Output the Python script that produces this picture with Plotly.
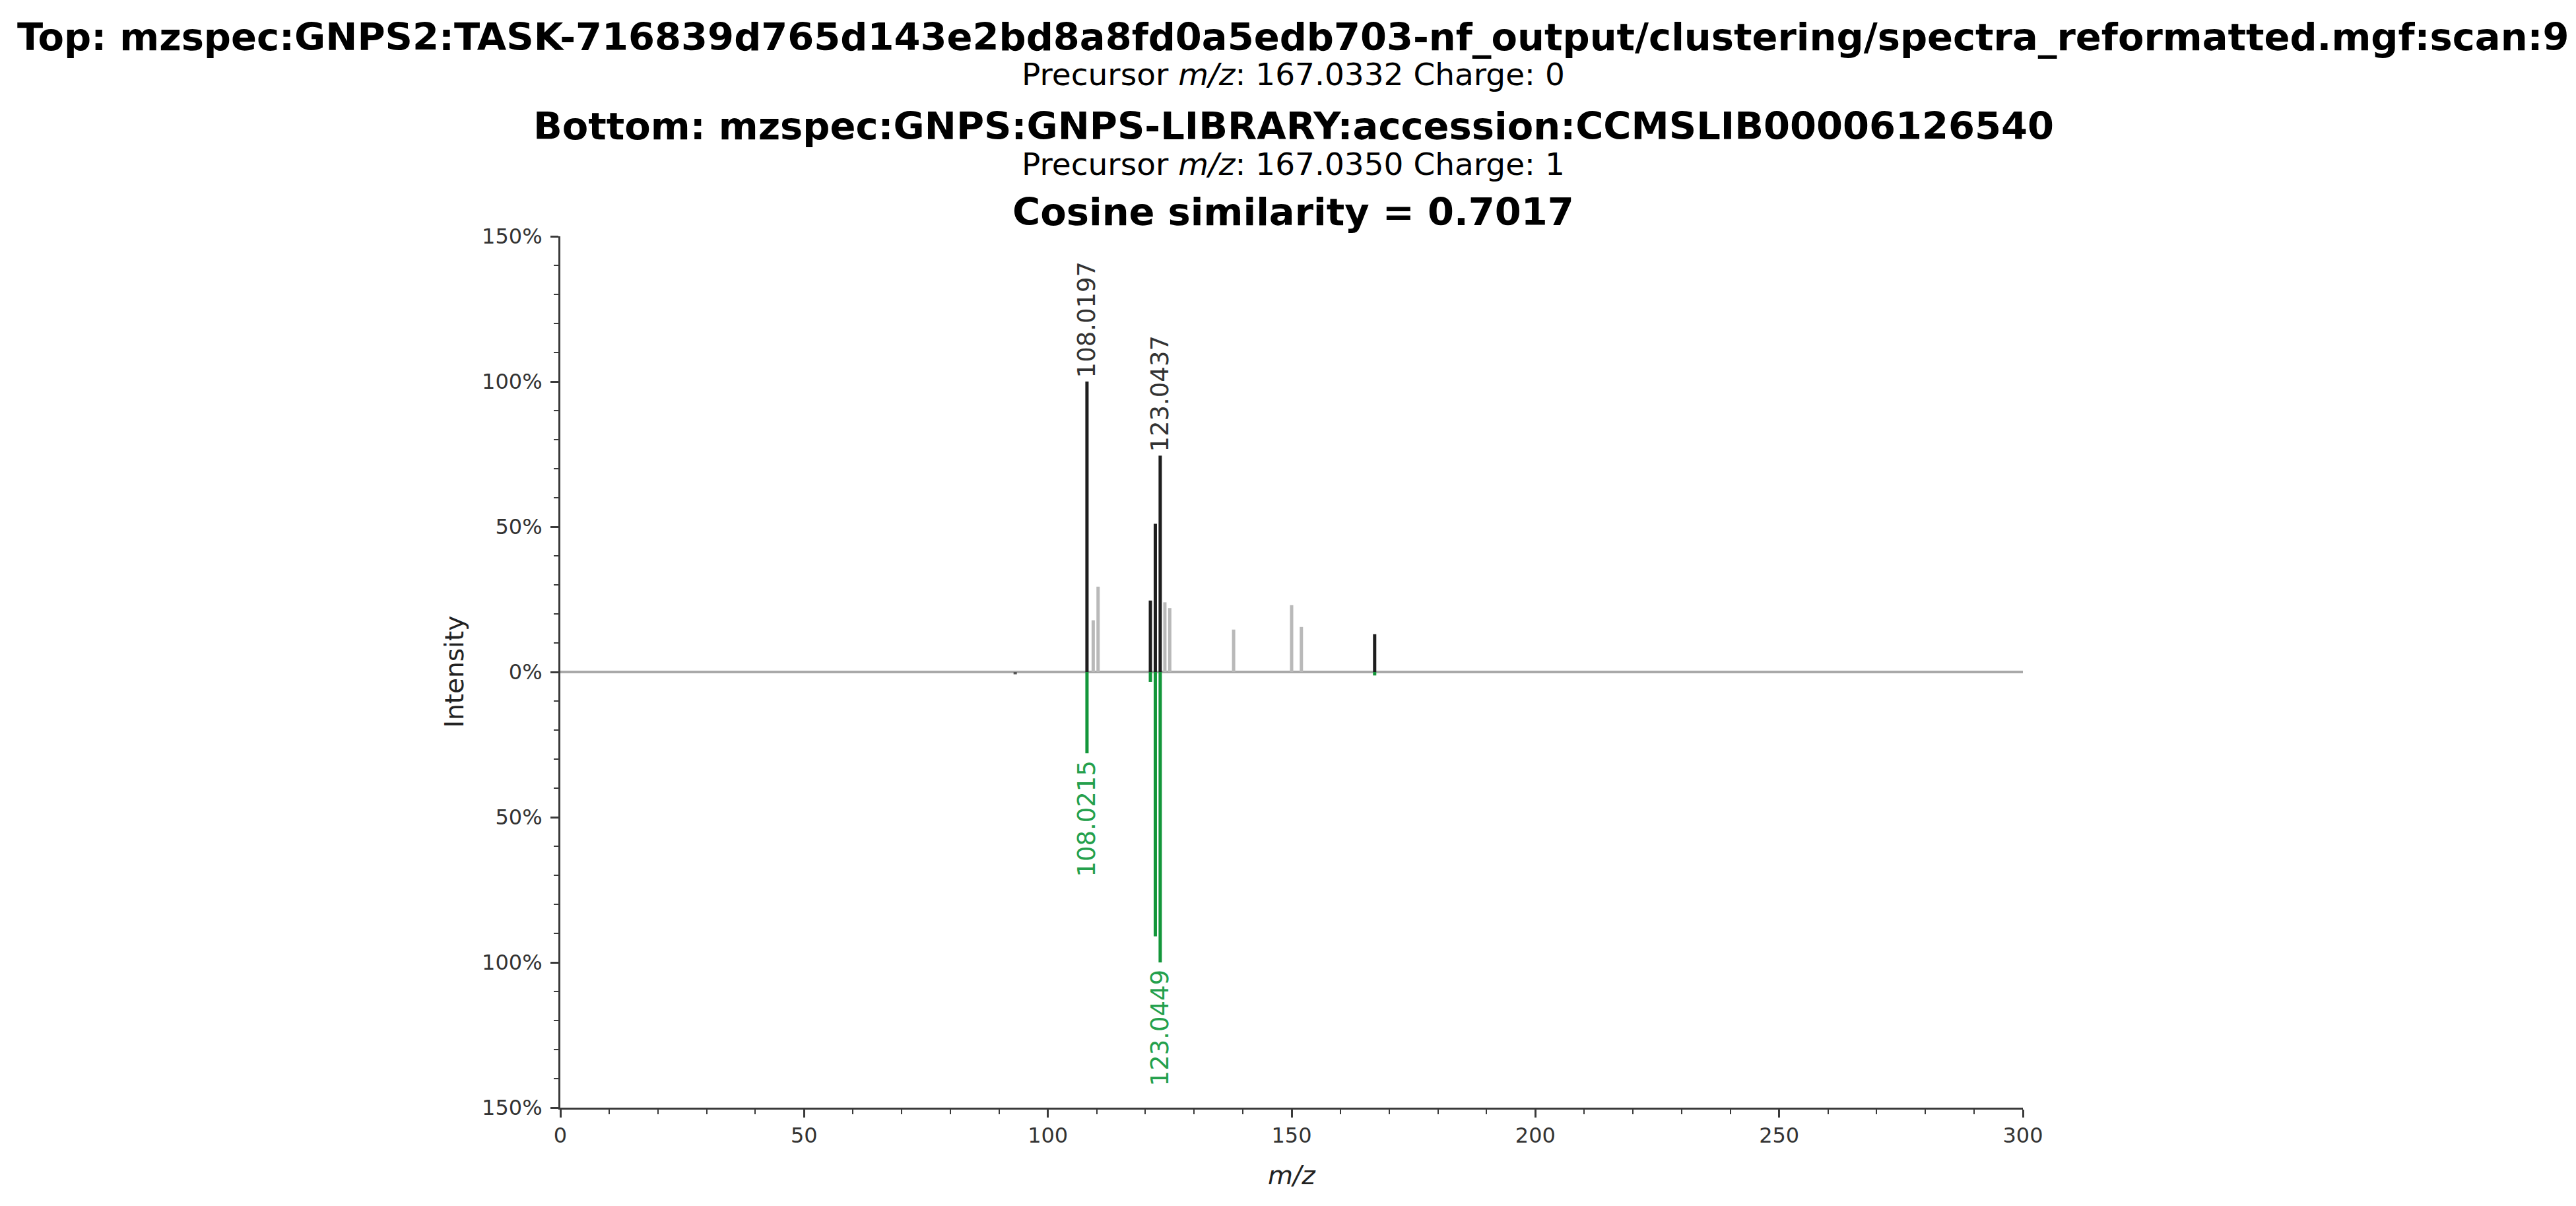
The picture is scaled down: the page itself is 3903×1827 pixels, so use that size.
"""Mirror plot of two MS/MS spectra (top: query, bottom: library match)."""
import plotly.graph_objects as go

FONT = "DejaVu Sans"
MATCH_TOP = "#1e1e1e"
UNMATCHED = "#b9b9b9"
MATCH_BOTTOM = "#13963a"
LABEL_BOTTOM = "#24a04c"
AXIS = "#3a3a3a"

# top spectrum, intensities in % of base peak
top_matched_mz = [108.0197, 121.03, 122.04, 123.0437, 167.03]
top_matched_int = [100.0, 24.6, 51.0, 74.5, 13.0]
top_other_mz = [109.3, 110.3, 124.0, 125.0, 138.1, 150.0, 152.0]
top_other_int = [17.8, 29.4, 24.0, 22.0, 14.6, 23.0, 15.5]
top_labels = {108.0197: "108.0197", 123.0437: "123.0437"}

# bottom spectrum (drawn downwards)
bottom_matched_mz = [108.0215, 121.03, 122.04, 123.0449, 167.03]
bottom_matched_int = [28.0, 3.4, 91.0, 100.0, 1.2]
bottom_other_mz = [93.3]
bottom_other_int = [0.8]
bottom_labels = {108.0215: "108.0215", 123.0449: "123.0449"}

titles = [
    ("<b>Top: mzspec:GNPS2:TASK-716839d765d143e2bd8a8fd0a5edb703-nf_output/"
     "clustering/spectra_reformatted.mgf:scan:9</b>", 48, 57.5),
    ("Precursor <i>m/z</i>: 167.0332 Charge: 0", 104, 47),
    ("<b>Bottom: mzspec:GNPS:GNPS-LIBRARY:accession:CCMSLIB00006126540</b>", 183, 57.5),
    ("Precursor <i>m/z</i>: 167.0350 Charge: 1", 240, 47),
    ("<b>Cosine similarity = 0.7017</b>", 314, 57.5),
]

y_ticks = [-150, -100, -50, 0, 50, 100, 150]
x_ticks = [0, 50, 100, 150, 200, 250, 300]

W, H = 3903, 1827
PLOT_L, PLOT_R, PLOT_T, PLOT_B = 841, 3057, 350, 1670


def stems(mz, inten, sign=1):
    xs, ys = [], []
    for m, i in zip(mz, inten):
        xs += [m, m, None]
        ys += [0, sign * i, None]
    return xs, ys


def paper_y(pix):
    return (PLOT_B - pix) / (PLOT_B - PLOT_T)


def paper_x(pix):
    return (pix - PLOT_L) / (PLOT_R - PLOT_L)


fig = go.Figure()
for mz, inten, sign, color in [
    (top_other_mz, top_other_int, 1, UNMATCHED),
    (bottom_other_mz, bottom_other_int, -1, "#555555"),
    (top_matched_mz, top_matched_int, 1, MATCH_TOP),
    (bottom_matched_mz, bottom_matched_int, -1, MATCH_BOTTOM),
]:
    x, y = stems(mz, inten, sign)
    fig.add_trace(go.Scatter(x=x, y=y, mode="lines",
                             line=dict(color=color, width=5),
                             hoverinfo="skip", showlegend=False))

for mz, text in top_labels.items():
    inten = top_matched_int[top_matched_mz.index(mz)]
    fig.add_annotation(x=mz, y=inten, text=text, textangle=-90,
                       showarrow=False, xanchor="center", yanchor="bottom",
                       yshift=4, font=dict(family=FONT, size=37, color="#333333"))
for mz, text in bottom_labels.items():
    inten = bottom_matched_int[bottom_matched_mz.index(mz)]
    fig.add_annotation(x=mz, y=-inten, text=text, textangle=-90,
                       showarrow=False, xanchor="center", yanchor="top",
                       yshift=-8, font=dict(family=FONT, size=37, color=LABEL_BOTTOM))

for text, ypix, size in titles:
    fig.add_annotation(x=paper_x(W / 2), y=paper_y(ypix), xref="paper", yref="paper",
                       text=text, showarrow=False, xanchor="center", yanchor="middle",
                       font=dict(family=FONT, size=size, color="black"))

# axis titles
fig.add_annotation(x=paper_x(655), y=0.5, xref="paper", yref="paper",
                   text="Intensity", textangle=-90, showarrow=False,
                   font=dict(family=FONT, size=39, color="#222222"))
fig.add_annotation(x=0.5, y=paper_y(1797), xref="paper", yref="paper",
                   text="<i>m/z</i>", showarrow=False,
                   font=dict(family=FONT, size=39, color="#222222"))

tick_style = dict(ticks="outside", ticklen=12, tickwidth=3, tickcolor=AXIS,
                  showline=True, linecolor=AXIS, linewidth=3, showgrid=False,
                  tickfont=dict(family=FONT, size=32, color="#333333"))

fig.update_xaxes(range=[0, 300], tickvals=x_ticks, zeroline=False,
                 minor=dict(tickmode="linear", tick0=0, dtick=10, ticks="outside",
                            ticklen=7, tickwidth=2, tickcolor=AXIS),
                 **tick_style)
fig.update_yaxes(range=[-150, 150], tickvals=y_ticks,
                 ticktext=[f"{abs(v)}%" for v in y_ticks],
                 zeroline=True, zerolinecolor="#a9a9a9", zerolinewidth=4,
                 minor=dict(tickmode="linear", tick0=0, dtick=10, ticks="outside",
                            ticklen=7, tickwidth=2, tickcolor=AXIS),
                 ticklabelstandoff=6,
                 **tick_style)

fig.update_layout(
    width=W, height=H, plot_bgcolor="white", paper_bgcolor="white",
    margin=dict(l=PLOT_L, r=W - PLOT_R, t=PLOT_T, b=H - PLOT_B, autoexpand=False),
    font=dict(family=FONT),
)

fig.write_html("out.html")
